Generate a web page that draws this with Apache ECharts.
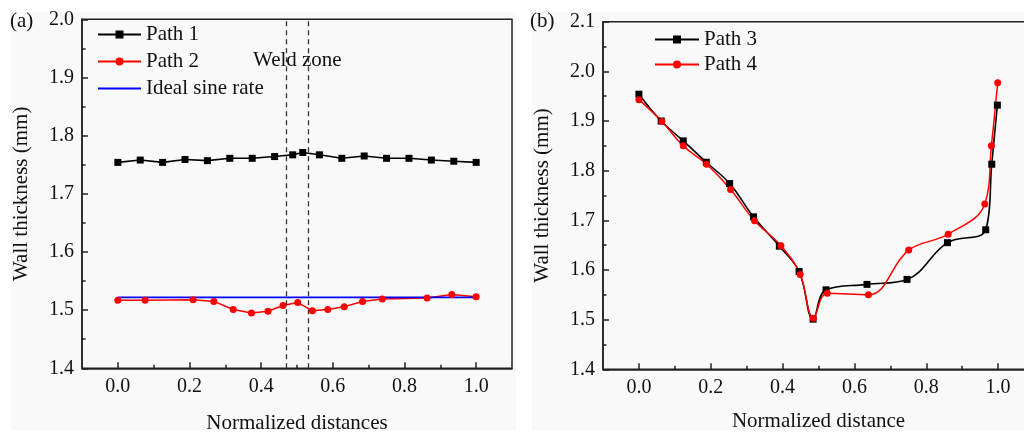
<!DOCTYPE html>
<html>
<head>
<meta charset="utf-8">
<script src="https://cdn.jsdelivr.net/npm/echarts@6/dist/echarts.min.js"></script>
<style>
html,body{margin:0;padding:0;background:#fff;}
#chart{width:1024px;height:432px;}
</style>
</head>
<body>
<div id="chart"></div>
<script>
// ---- Data ----
var path1X = [0, 0.0625, 0.125, 0.1875, 0.25, 0.3125, 0.375, 0.4375, 0.488, 0.516, 0.5625, 0.625, 0.6875, 0.75, 0.8125, 0.875, 0.9375, 1.0];
var path1Y = [1.754, 1.758, 1.754, 1.759, 1.757, 1.761, 1.761, 1.764, 1.767, 1.771, 1.767, 1.761, 1.765, 1.761, 1.761, 1.758, 1.756, 1.754];

var path2X = [0, 0.076, 0.21, 0.268, 0.322, 0.373, 0.419, 0.461, 0.502, 0.543, 0.586, 0.632, 0.683, 0.738, 0.863, 0.932, 1.0];
var path2Y = [1.517, 1.517, 1.518, 1.515, 1.501, 1.495, 1.498, 1.508, 1.513, 1.499, 1.501, 1.506, 1.515, 1.519, 1.521, 1.527, 1.523];

var idealX = [0, 1.0];
var idealY = [1.522, 1.522];

var weldZoneX = [0.475, 0.525];

var path3X = [0, 0.062, 0.1235, 0.1876, 0.2526, 0.319, 0.391, 0.446, 0.485, 0.521, 0.635, 0.7465, 0.859, 0.9656, 0.9824, 0.998];
var path3Y = [1.954, 1.900, 1.860, 1.817, 1.774, 1.707, 1.648, 1.597, 1.501, 1.560, 1.571, 1.581, 1.655, 1.681, 1.813, 1.932];

var path4X = [0, 0.064, 0.1235, 0.1885, 0.2553, 0.322, 0.3955, 0.449, 0.4856, 0.5245, 0.639, 0.7512, 0.861, 0.9629, 0.9814, 0.999];
var path4Y = [1.943, 1.899, 1.850, 1.813, 1.762, 1.699, 1.649, 1.591, 1.503, 1.553, 1.550, 1.640, 1.672, 1.733, 1.850, 1.977];

var xMajorTicks = [0, 0.2, 0.4, 0.6, 0.8, 1.0];
var xMinorTicks = [0.1, 0.3, 0.5, 0.7, 0.9];

// ---- Helpers ----
function zip(xs, ys) { return xs.map(function (x, i) { return [x, ys[i]]; }); }
var FONT = '"Liberation Serif", "Times New Roman", serif';
var AX = '#222';
var TXT = '#111';

function xAxisMajor(gi, name, gap) {
  return {
    gridIndex: gi, type: 'value', min: -0.1, max: 1.1, position: 'bottom',
    axisLine: { show: true, onZero: false, lineStyle: { color: AX, width: 1.5 } },
    axisTick: { show: true, inside: true, length: 6, customValues: xMajorTicks, lineStyle: { color: AX, width: 1.5 } },
    axisLabel: { show: true, customValues: xMajorTicks, formatter: function (v) { return v.toFixed(1); },
      margin: 8, fontSize: 20, fontFamily: FONT, color: TXT },
    splitLine: { show: false },
    name: name, nameLocation: 'middle', nameGap: gap,
    nameTextStyle: { fontSize: 21, fontFamily: FONT, color: TXT }
  };
}
function xAxisMinor(gi) {
  return {
    gridIndex: gi, type: 'value', min: -0.1, max: 1.1, position: 'bottom',
    axisLine: { show: false, onZero: false },
    axisTick: { show: true, inside: true, length: 3.5, customValues: xMinorTicks, lineStyle: { color: AX, width: 1.5 } },
    axisLabel: { show: false },
    splitLine: { show: false }
  };
}
function yAxis(gi, max, gap) {
  return {
    gridIndex: gi, type: 'value', min: 1.4, max: max, interval: 0.1, position: 'left',
    axisLine: { show: true, onZero: false, lineStyle: { color: AX, width: 1.5 } },
    axisTick: { show: true, inside: true, length: 6, lineStyle: { color: AX, width: 1.5 } },
    minorTick: { show: true, splitNumber: 2, length: 3.5, lineStyle: { color: AX, width: 1.5 } },
    axisLabel: { formatter: function (v) { return v.toFixed(1); }, margin: 8, fontSize: 20, fontFamily: FONT, color: TXT },
    splitLine: { show: false },
    name: 'Wall thickness (mm)', nameLocation: 'middle', nameGap: gap, nameRotate: 90,
    nameTextStyle: { fontSize: 21, fontFamily: FONT, color: TXT }
  };
}

var chart = echarts.init(document.getElementById('chart'), null, { renderer: 'canvas' });

var option = {
  backgroundColor: '#ffffff',
  animation: false,
  textStyle: { fontFamily: FONT },
  graphic: [
    { type: 'rect', z: -100, silent: true, shape: { x: 11, y: 12, width: 505, height: 418 }, style: { fill: '#f9f9f9' } },
    { type: 'rect', z: -100, silent: true, shape: { x: 532, y: 12, width: 492, height: 418 }, style: { fill: '#f9f9f9' } },
    { type: 'text', x: 10, y: 21, style: { text: '(a)', fontSize: 21, fontFamily: FONT, fill: TXT, verticalAlign: 'middle' } },
    { type: 'text', x: 530, y: 21, style: { text: '(b)', fontSize: 21, fontFamily: FONT, fill: TXT, verticalAlign: 'middle' } },
    { type: 'text', x: 253, y: 60, style: { text: 'Weld zone', fontSize: 21, fontFamily: FONT, fill: TXT, verticalAlign: 'middle' } }
  ],
  grid: [
    { left: 82, top: 19.3, width: 430, height: 349, show: true, borderColor: AX, borderWidth: 1.5, backgroundColor: 'transparent', outerBoundsMode: 'none', containLabel: false },
    { left: 603, top: 21.7, width: 431, height: 347.6, show: true, borderColor: AX, borderWidth: 1.5, backgroundColor: 'transparent', outerBoundsMode: 'none', containLabel: false }
  ],
  xAxis: [
    xAxisMajor(0, 'Normalized distances', 45),
    xAxisMinor(0),
    xAxisMajor(1, 'Normalized distance', 42),
    xAxisMinor(1)
  ],
  yAxis: [
    yAxis(0, 2.0, 50),
    yAxis(1, 2.1, 50)
  ],
  legend: [
    {
      data: ['Path 1', 'Path 2', { name: 'Ideal sine rate', itemStyle: { opacity: 0 } }],
      orient: 'vertical', left: 92, top: 19, itemWidth: 43, itemHeight: 10, itemGap: 6,
      textStyle: { fontSize: 21, fontFamily: FONT, color: TXT },
      backgroundColor: 'transparent'
    },
    {
      data: ['Path 3', 'Path 4'],
      orient: 'vertical', left: 649, top: 24, itemWidth: 44, itemHeight: 10, itemGap: 4,
      textStyle: { fontSize: 21, fontFamily: FONT, color: TXT },
      backgroundColor: 'transparent'
    }
  ],
  series: [
    {
      name: 'Path 1', type: 'line', xAxisIndex: 0, yAxisIndex: 0,
      data: zip(path1X, path1Y),
      symbol: 'rect', symbolSize: 7,
      itemStyle: { color: '#000' }, lineStyle: { color: '#000', width: 1.6 },
      markLine: {
        silent: true, symbol: 'none', label: { show: false },
        lineStyle: { type: [5, 4], color: '#333', width: 1.3 },
        data: weldZoneX.map(function (x) { return { xAxis: x }; })
      }
    },
    {
      name: 'Path 2', type: 'line', xAxisIndex: 0, yAxisIndex: 0,
      data: zip(path2X, path2Y),
      symbol: 'circle', symbolSize: 7,
      itemStyle: { color: '#ff0000' }, lineStyle: { color: '#ff0000', width: 1.5 }
    },
    {
      name: 'Ideal sine rate', type: 'line', xAxisIndex: 0, yAxisIndex: 0,
      data: zip(idealX, idealY),
      symbol: 'none',
      itemStyle: { color: '#0000ff' }, lineStyle: { color: '#0000ff', width: 1.6 }
    },
    {
      name: 'Path 3', type: 'line', xAxisIndex: 2, yAxisIndex: 1,
      data: zip(path3X, path3Y), smooth: 0.4,
      symbol: 'rect', symbolSize: 7,
      itemStyle: { color: '#000' }, lineStyle: { color: '#000', width: 1.6 }
    },
    {
      name: 'Path 4', type: 'line', xAxisIndex: 2, yAxisIndex: 1,
      data: zip(path4X, path4Y), smooth: 0.4,
      symbol: 'circle', symbolSize: 7,
      itemStyle: { color: '#ff0000' }, lineStyle: { color: '#ff0000', width: 1.5 }
    }
  ]
};
chart.setOption(option);
</script>
</body>
</html>
